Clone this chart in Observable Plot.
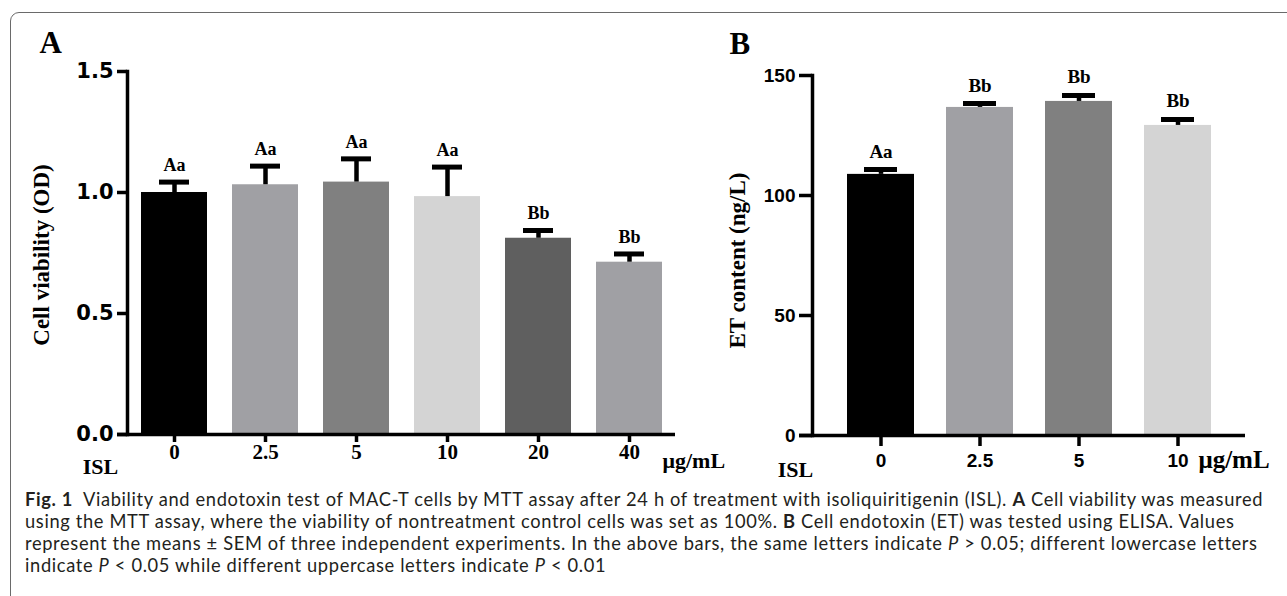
<!DOCTYPE html>
<html>
<head>
<meta charset="utf-8">
<script src="https://cdn.jsdelivr.net/npm/d3@7"></script>
<script src="https://cdn.jsdelivr.net/npm/@observablehq/plot@0.6"></script>
<style>
  html, body { margin: 0; padding: 0; background: #fff; }
  body { width: 1287px; height: 596px; position: relative; overflow: hidden; }
  #border { position: absolute; left: 10px; top: 12px; width: 1400px; height: 640px;
            border: 1.3px solid #6a6a6a; border-radius: 9px; box-sizing: border-box; }
  #panelA { position: absolute; left: 0; top: 0; }
  #panelB { position: absolute; left: 700px; top: 0; }
  #panelA svg, #panelB svg { overflow: visible; background: transparent; }
  [aria-label$="axis tick"] path { stroke-width: 3.5px; stroke: #000; }
  #caption { position: absolute; left: 25px; top: 488px; font-family: Lato, "Open Sans", sans-serif;
             font-size: 18.3px; line-height: 22px; color: #231f20; white-space: pre; }
  #caption .ln { height: 22px; }
  #caption .b { font-weight: 700; }
  #caption .i { font-style: italic; }
</style>
</head>
<body>
<div id="border"></div>
<div id="panelA"></div>
<div id="panelB"></div>
<div id="caption"><div class="ln"><span class="b">Fig. 1</span><span>  Viability and endotoxin test of MAC-T cells by MTT assay after 24 h of treatment with isoliquiritigenin (ISL). </span><span class="b">A</span><span> Cell viability was measured</span></div><div class="ln"><span>using the MTT assay, where the viability of nontreatment control cells was set as 100%. </span><span class="b">B</span><span> Cell endotoxin (ET) was tested using ELISA. Values</span></div><div class="ln"><span>represent the means ± SEM of three independent experiments. In the above bars, the same letters indicate </span><span class="i">P</span><span> &gt; 0.05; different lowercase letters</span></div><div class="ln"><span>indicate </span><span class="i">P</span><span> &lt; 0.05 while different uppercase letters indicate </span><span class="i">P</span><span> &lt; 0.01</span></div></div>
<script>
// ---------- Panel A data ----------
const dosesA = ["0", "2.5", "5", "10", "20", "40"];
const viabilityA = [1.00, 1.032, 1.043, 0.983, 0.811, 0.712];
const semA = [0.043, 0.077, 0.096, 0.122, 0.032, 0.034];
const lettersA = ["Aa", "Aa", "Aa", "Aa", "Bb", "Bb"];
const fillsA = ["#000000", "#a0a0a4", "#808080", "#d4d4d4", "#5f5f5f", "#a0a0a4"];
const yTicksA = [0, 0.5, 1.0, 1.5];

// ---------- Panel B data ----------
const dosesB = ["0", "2.5", "5", "10"];
const etB = [108.8, 136.7, 139.2, 129.2];
const semB = [2.0, 1.6, 2.5, 2.5];
const lettersB = ["Aa", "Bb", "Bb", "Bb"];
const fillsB = ["#000000", "#a0a0a4", "#808080", "#d4d4d4"];
const yTicksB = [0, 50, 100, 150];

const rowsA = dosesA.map((d, i) => ({dose: d, mean: viabilityA[i], sem: semA[i], letter: lettersA[i], fill: fillsA[i]}));
const rowsB = dosesB.map((d, i) => ({dose: d, mean: etB[i], sem: semB[i], letter: lettersB[i], fill: fillsB[i]}));

const serif = "Liberation Serif, Times New Roman, serif";
const sans = "Liberation Sans, Arial, sans-serif";
const wide = "DejaVu Sans, Verdana, sans-serif";

function panel(rows, o) {
  return Plot.plot({
    width: o.width, height: o.height,
    marginLeft: o.ml, marginRight: o.mr, marginTop: o.mt, marginBottom: o.mb,
    style: {background: "transparent", color: "#000", overflow: "visible"},
    x: {type: "band", domain: rows.map(d => d.dose), paddingInner: o.pi, paddingOuter: o.po},
    y: {domain: o.ydomain},
    color: {type: "identity"},
    marks: [
      Plot.barY(rows, {x: "dose", y: "mean", fill: "fill"}),
      Plot.ruleX(rows, {x: "dose", y1: "mean", y2: d => d.mean + d.sem, stroke: "#000", strokeWidth: 4.5}),
      Plot.tickY(rows, {x: "dose", y: d => d.mean + d.sem, stroke: "#000", strokeWidth: 5, insetLeft: o.capInset, insetRight: o.capInset}),
      Plot.text(rows, {x: "dose", y: d => d.mean + d.sem, text: "letter", dy: o.letterDy, lineAnchor: "bottom",
        fontFamily: serif, fontWeight: "bold", fontSize: o.letterSize, fill: "#000"}),
      Plot.ruleY([0], {stroke: "#000", strokeWidth: 3.5, insetLeft: -o.yTick}),
      Plot.frame({anchor: "left", stroke: "#000", strokeWidth: 3.5}),
      Plot.axisY({ticks: o.yticks, tickFormat: o.yfmt, tickSize: o.yTick, tickPadding: 4,
        fontFamily: o.yFont, fontWeight: "bold", fontSize: o.ySize, strokeWidth: 3.5, label: null}),
      Plot.axisX({tickSize: o.xTick, tickPadding: o.xPad, fontFamily: o.xFont, fontWeight: "bold",
        fontSize: o.xSize, strokeWidth: 3.5, label: null}),
      Plot.text([o.ytitle], {frameAnchor: "left", dx: o.ytDx, dy: o.ytDy, rotate: -90, textAnchor: "middle",
        lineAnchor: "middle", fontFamily: serif, fontWeight: "bold", fontSize: o.ytSize, fill: "#000"}),
      Plot.text([o.panel], {frameAnchor: "top-left", dx: o.pDx, dy: o.pDy, textAnchor: "start", lineAnchor: "bottom",
        fontFamily: serif, fontWeight: "bold", fontSize: 31, fill: "#000"}),
      Plot.text(["ISL"], {frameAnchor: "bottom-left", dx: o.islDx, dy: o.islDy, textAnchor: "middle", lineAnchor: "middle",
        fontFamily: serif, fontWeight: "bold", fontSize: 22, fill: "#000"}),
      Plot.text(["μg/mL"], {frameAnchor: "bottom-right", dx: o.unitDx, dy: o.unitDy, textAnchor: "start", lineAnchor: "middle",
        fontFamily: serif, fontWeight: "bold", fontSize: o.unitSize, fill: "#000"})
    ]
  });
}

document.getElementById("panelA").append(panel(rowsA, {
  width: 735, height: 490, ml: 127, mr: 60, mt: 71, mb: 56,
  pi: 0.278, po: 0.137, ydomain: [0, 1.5], yticks: yTicksA, yfmt: d3.format(".1f"),
  capInset: 18, letterDy: -11, letterSize: 18,
  yTick: 10, yFont: wide, ySize: 21, xTick: 8, xPad: 2, xFont: serif, xSize: 21,
  ytitle: "Cell viability (OD)", ytDx: -86, ytDy: 2, ytSize: 23,
  panel: "A", pDx: -88, pDy: -19,
  islDx: -27, islDy: 32, unitDx: -13, unitDy: 26, unitSize: 22
}));

document.getElementById("panelB").append(panel(rowsB, {
  width: 587, height: 490, ml: 112, mr: 42, mt: 75, mb: 55,
  pi: 0.327, po: 0.34, ydomain: [0, 150], yticks: yTicksB, yfmt: d3.format("d"),
  capInset: 17, letterDy: -12, letterSize: 19,
  yTick: 13, yFont: sans, ySize: 19, xTick: 11, xPad: 7, xFont: sans, xSize: 19,
  ytitle: "ET content (ng/L)", ytDx: -75, ytDy: 5, ytSize: 23,
  panel: "B", pDx: -83, pDy: -22,
  islDx: -17, islDy: 34, unitDx: -47, unitDy: 24, unitSize: 25
}));

// stretch the caption's letter spacing so the first line spans the reference width
(function fitCaption() {
  const cap = document.getElementById("caption");
  const first = cap.querySelector(".ln");
  const range = document.createRange();
  range.selectNodeContents(first);
  const w = range.getBoundingClientRect().width;
  const target = 1238;
  const n = first.textContent.length;
  const ls = Math.max(0, Math.min(1, (target - w) / n));
  cap.style.letterSpacing = ls.toFixed(3) + "px";
})();
</script>
</body>
</html>
